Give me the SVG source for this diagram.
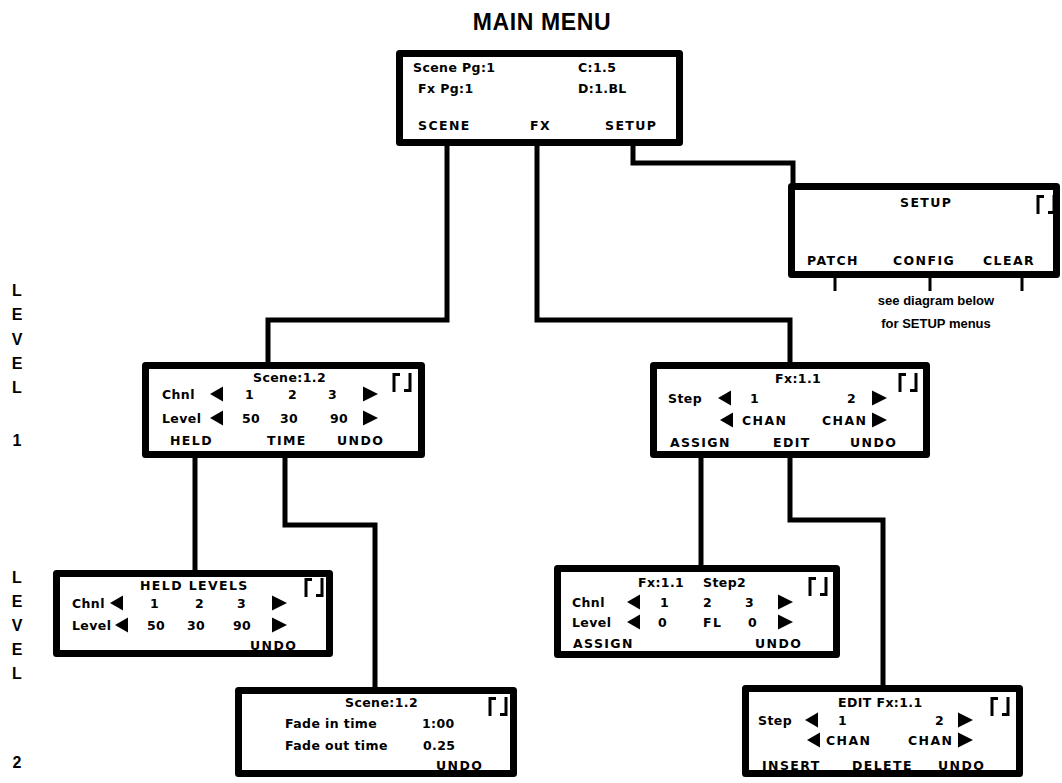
<svg xmlns="http://www.w3.org/2000/svg" xmlns:xlink="http://www.w3.org/1999/xlink" width="1062" height="783" viewBox="0 0 1062 783">
<style>
.box{fill:#fff;stroke:#000;stroke-width:7;stroke-linejoin:round}
.conn{fill:none;stroke:#000;stroke-width:5;stroke-linejoin:miter}
.stub{fill:none;stroke:#000;stroke-width:3}
.t{font-family:"DejaVu Sans","Liberation Sans",sans-serif;font-weight:bold;font-size:12.5px;fill:#000;letter-spacing:0.4px}
.c{letter-spacing:1.4px}
.s{font-family:"Liberation Sans",Arial,sans-serif;font-weight:bold;font-size:13px;fill:#000}
.lv{font-family:"Liberation Sans",Arial,sans-serif;font-weight:bold;font-size:16px;fill:#000;text-anchor:middle}
.title{font-family:"Liberation Sans",Arial,sans-serif;font-weight:bold;font-size:23px;fill:#000;text-anchor:middle;letter-spacing:0.6px}
.icon{fill:none;stroke:#000;stroke-width:3}
</style>
<defs>
<polygon id="la" points="0,0 13,-7.5 13,7.5" fill="#000"/>
<polygon id="ra" points="15,0 0,-7.5 0,7.5" fill="#000"/>
<path id="ud" d="M2,19 V1.5 H8 M18,0 V17.5 H12" class="icon"/>
</defs>

<text class="title" x="542" y="30">MAIN MENU</text>

<g id="levels">
<text class="lv" x="17" y="296">L</text>
<text class="lv" x="17" y="320">E</text>
<text class="lv" x="17" y="345">V</text>
<text class="lv" x="17" y="369">E</text>
<text class="lv" x="17" y="393">L</text>
<text class="lv" x="17" y="446">1</text>
<text class="lv" x="17" y="583">L</text>
<text class="lv" x="17" y="607">E</text>
<text class="lv" x="17" y="631">V</text>
<text class="lv" x="17" y="655">E</text>
<text class="lv" x="17" y="679">L</text>
<text class="lv" x="17" y="768">2</text>
</g>

<g id="connectors">
<path class="conn" d="M447,146 V320 H268 V362"/>
<path class="conn" d="M537,146 V320 H790 V362"/>
<path class="conn" d="M633,146 V163 H793 V183"/>
<path class="conn" d="M195,458 V570"/>
<path class="conn" d="M285,458 V525 H375 V687"/>
<path class="conn" d="M701,458 V565"/>
<path class="conn" d="M790,458 V520 H883 V685"/>
<path class="stub" d="M835,278 V291 M930,278 V291 M1022,278 V291"/>
</g>

<g id="main-menu">
<rect class="box" x="399.5" y="53.5" width="280" height="89"/>
<text class="t" x="413" y="72">Scene Pg:1</text>
<text class="t" x="578" y="72">C:1.5</text>
<text class="t" x="418" y="93">Fx Pg:1</text>
<text class="t" x="578" y="93">D:1.BL</text>
<text class="t c" x="418" y="130">SCENE</text>
<text class="t c" x="530" y="130">FX</text>
<text class="t c" x="605" y="130">SETUP</text>
</g>

<g id="setup">
<rect class="box" x="791.5" y="186.5" width="265" height="88"/>
<text class="t c" x="900" y="207">SETUP</text>
<text class="t c" x="807" y="265">PATCH</text>
<text class="t c" x="893" y="265">CONFIG</text>
<text class="t c" x="983" y="265">CLEAR</text>
<use xlink:href="#ud" x="1036" y="195"/>
<text class="s" x="936" y="305" text-anchor="middle">see diagram below</text>
<text class="s" x="936" y="328" text-anchor="middle">for SETUP menus</text>
</g>

<g id="scene-l1">
<rect class="box" x="145.5" y="365.5" width="276" height="89"/>
<text class="t" x="253" y="382">Scene:1.2</text>
<text class="t" x="162" y="399">Chnl</text>
<use xlink:href="#la" x="210" y="394"/>
<text class="t" x="245" y="399">1</text>
<text class="t" x="288" y="399">2</text>
<text class="t" x="328" y="399">3</text>
<use xlink:href="#ra" x="363" y="394"/>
<text class="t" x="162" y="423">Level</text>
<use xlink:href="#la" x="210" y="418"/>
<text class="t" x="242" y="423">50</text>
<text class="t" x="280" y="423">30</text>
<text class="t" x="330" y="423">90</text>
<use xlink:href="#ra" x="363" y="418"/>
<text class="t c" x="170" y="445">HELD</text>
<text class="t c" x="267" y="445">TIME</text>
<text class="t c" x="337" y="445">UNDO</text>
<use xlink:href="#ud" x="392" y="373"/>
</g>

<g id="fx-l1">
<rect class="box" x="653.5" y="365.5" width="273" height="89"/>
<text class="t" x="775" y="383">Fx:1.1</text>
<text class="t" x="668" y="403">Step</text>
<use xlink:href="#la" x="718" y="398"/>
<text class="t" x="750" y="403">1</text>
<text class="t" x="847" y="403">2</text>
<use xlink:href="#ra" x="872" y="398"/>
<use xlink:href="#la" x="720" y="420"/>
<text class="t c" x="742" y="425">CHAN</text>
<text class="t c" x="822" y="425">CHAN</text>
<use xlink:href="#ra" x="872" y="420"/>
<text class="t c" x="670" y="447">ASSIGN</text>
<text class="t c" x="773" y="447">EDIT</text>
<text class="t c" x="850" y="447">UNDO</text>
<use xlink:href="#ud" x="898" y="373"/>
</g>

<g id="held-levels">
<rect class="box" x="56.5" y="573.5" width="273" height="80"/>
<text class="t c" x="140" y="590">HELD LEVELS</text>
<text class="t" x="72" y="608">Chnl</text>
<use xlink:href="#la" x="110" y="603"/>
<text class="t" x="150" y="608">1</text>
<text class="t" x="195" y="608">2</text>
<text class="t" x="237" y="608">3</text>
<use xlink:href="#ra" x="272" y="603"/>
<text class="t" x="72" y="630">Level</text>
<use xlink:href="#la" x="115" y="625"/>
<text class="t" x="147" y="630">50</text>
<text class="t" x="187" y="630">30</text>
<text class="t" x="233" y="630">90</text>
<use xlink:href="#ra" x="272" y="625"/>
<text class="t c" x="250" y="650">UNDO</text>
<use xlink:href="#ud" x="304" y="578"/>
</g>

<g id="scene-l2">
<rect class="box" x="238.5" y="690.5" width="275" height="83"/>
<text class="t" x="345" y="707">Scene:1.2</text>
<text class="t" x="285" y="728">Fade in time</text>
<text class="t" x="422" y="728">1:00</text>
<text class="t" x="285" y="750">Fade out time</text>
<text class="t" x="423" y="750">0.25</text>
<text class="t c" x="436" y="770">UNDO</text>
<use xlink:href="#ud" x="488" y="697"/>
</g>

<g id="fx-step2">
<rect class="box" x="557.5" y="568.5" width="279" height="86"/>
<text class="t" x="638" y="587">Fx:1.1</text>
<text class="t" x="703" y="587">Step2</text>
<text class="t" x="572" y="607">Chnl</text>
<use xlink:href="#la" x="627" y="602"/>
<text class="t" x="660" y="607">1</text>
<text class="t" x="703" y="607">2</text>
<text class="t" x="745" y="607">3</text>
<use xlink:href="#ra" x="778" y="602"/>
<text class="t" x="572" y="627">Level</text>
<use xlink:href="#la" x="627" y="622"/>
<text class="t" x="658" y="627">0</text>
<text class="t c" x="703" y="627">FL</text>
<text class="t" x="748" y="627">0</text>
<use xlink:href="#ra" x="778" y="622"/>
<text class="t c" x="573" y="648">ASSIGN</text>
<text class="t c" x="755" y="648">UNDO</text>
<use xlink:href="#ud" x="808" y="577"/>
</g>

<g id="edit-fx">
<rect class="box" x="745.5" y="688.5" width="274" height="85"/>
<text class="t" x="838" y="707">EDIT Fx:1.1</text>
<text class="t" x="758" y="725">Step</text>
<use xlink:href="#la" x="805" y="720"/>
<text class="t" x="838" y="725">1</text>
<text class="t" x="935" y="725">2</text>
<use xlink:href="#ra" x="958" y="720"/>
<use xlink:href="#la" x="807" y="740"/>
<text class="t c" x="826" y="745">CHAN</text>
<text class="t c" x="908" y="745">CHAN</text>
<use xlink:href="#ra" x="958" y="740"/>
<text class="t c" x="762" y="770">INSERT</text>
<text class="t c" x="852" y="770">DELETE</text>
<text class="t c" x="938" y="770">UNDO</text>
<use xlink:href="#ud" x="990" y="697"/>
</g>
</svg>
